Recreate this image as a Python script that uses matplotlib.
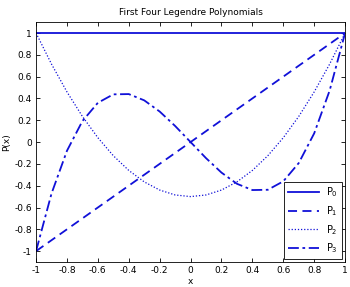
import matplotlib.pyplot as plt

x_p0 = [-1.0, 1.0]
p0 = [1.0, 1.0]

x_p1 = [-1.0, 1.0]
p1 = [-1.0, 1.0]

x_pts = [-1.0, -0.9, -0.8, -0.7, -0.6, -0.5, -0.4, -0.3, -0.2, -0.1, 0.0,
         0.1, 0.2, 0.3, 0.4, 0.5, 0.6, 0.7, 0.8, 0.9, 1.0]
p2 = [1.0, 0.715, 0.46, 0.235, 0.04, -0.125, -0.26, -0.365, -0.44, -0.485, -0.5,
      -0.485, -0.44, -0.365, -0.26, -0.125, 0.04, 0.235, 0.46, 0.715, 1.0]
p3 = [-1.0, -0.4725, -0.08, 0.1925, 0.36, 0.4375, 0.44, 0.3825, 0.28, 0.1475, 0.0,
      -0.1475, -0.28, -0.3825, -0.44, -0.4375, -0.36, -0.1925, 0.08, 0.4725, 1.0]

xticks = [-1, -0.8, -0.6, -0.4, -0.2, 0, 0.2, 0.4, 0.6, 0.8, 1]
yticks = [-1, -0.8, -0.6, -0.4, -0.2, 0, 0.2, 0.4, 0.6, 0.8, 1]

plt.rcParams['font.family'] = 'DejaVu Sans'
plt.rcParams['font.size'] = 6.5

fig = plt.figure(figsize=(3.5, 2.87), dpi=100)
ax = fig.add_axes([0.103, 0.087, 0.883, 0.836])

blue = '#1010d8'
ax.plot(x_p0, p0, color=blue, lw=1.3, ls='-', label='P$_0$')
ax.plot(x_p1, p1, color=blue, lw=1.3, ls=(0, (5, 3)), label='P$_1$')
ax.plot(x_pts, p2, color=blue, lw=0.9, ls=(0, (1, 1.5)), label='P$_2$')
ax.plot(x_pts, p3, color=blue, lw=1.3, ls=(0, (6, 2, 1.5, 2)), label='P$_3$')

ax.set_xlim(-1, 1)
ax.set_ylim(-1.1, 1.1)
ax.set_xticks(xticks)
ax.set_yticks(yticks)
ax.set_xticklabels([f'{t:g}' for t in xticks])
ax.set_yticklabels([f'{t:g}' for t in yticks])
ax.tick_params(direction='in', top=True, right=True, length=3, width=0.6, pad=3)
for s in ax.spines.values():
    s.set_linewidth(0.6)

ax.set_xlabel('x', labelpad=1)
ax.set_ylabel('P(x)', labelpad=2)
ax.set_title('First Four Legendre Polynomials', fontsize=6.5, pad=5)

leg = ax.legend(loc='lower right', fancybox=False, edgecolor='black',
                framealpha=1, handlelength=3.2, borderpad=0.4, labelspacing=0.5,
                fontsize=7, borderaxespad=0.3)
leg.get_frame().set_linewidth(0.6)

fig.savefig('out.png')
